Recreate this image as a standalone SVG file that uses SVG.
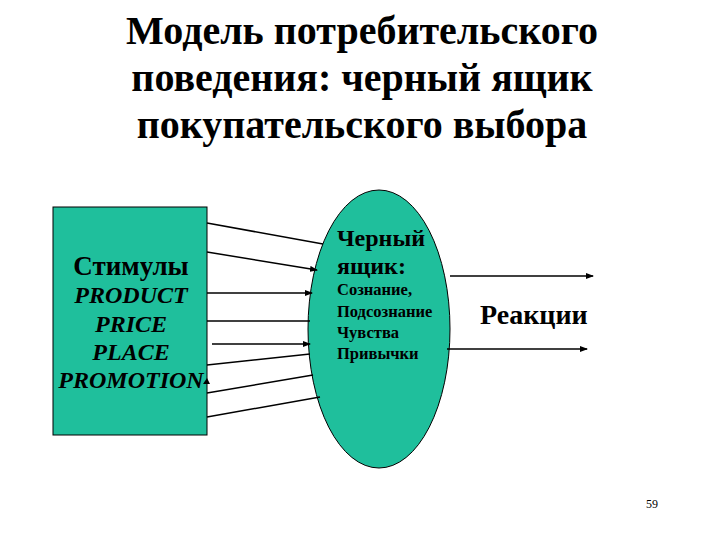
<svg xmlns="http://www.w3.org/2000/svg" width="720" height="540" viewBox="0 0 720 540">
<defs>
<style>
.t{font-family:"Liberation Serif","DejaVu Serif","Times New Roman",serif;fill:#000;font-weight:bold}
.c{stroke:#000;stroke-width:1.5;fill:none}
.node{fill:#1fbf9c;stroke:#000;stroke-width:1}
</style>
<marker id="ah" markerWidth="8" markerHeight="6" refX="7" refY="3" orient="auto" markerUnits="userSpaceOnUse"><path d="M0,0 L8,3 L0,6 z" fill="#000"/></marker>
</defs>
<rect width="720" height="540" fill="#fff"/>
<g id="title">
<text class="t" x="362" y="44" font-size="40" text-anchor="middle">Модель потребительского</text>
<text class="t" x="362" y="91" font-size="40" text-anchor="middle">поведения: черный ящик</text>
<text class="t" x="362" y="138" font-size="40" text-anchor="middle">покупательского выбора</text>
</g>
<g id="stimuli">
<rect class="node" x="53" y="207" width="154" height="228"/>
<text class="t" x="131" y="275" font-size="27" text-anchor="middle">Стимулы</text>
<text class="t" x="131" y="303" font-size="24" font-style="italic" text-anchor="middle">PRODUCT</text>
<text class="t" x="131" y="332" font-size="24" font-style="italic" text-anchor="middle">PRICE</text>
<text class="t" x="131" y="360" font-size="24" font-style="italic" text-anchor="middle">PLACE</text>
<text class="t" x="131" y="388" font-size="24" font-style="italic" text-anchor="middle">PROMOTION</text>
<path d="M203,384 L207,378 L210,384 z" fill="#000"/>
</g>
<g id="blackbox">
<ellipse class="node" cx="379" cy="329" rx="71" ry="139"/>
<text class="t" x="337" y="246" font-size="24">Черный</text>
<text class="t" x="337" y="274" font-size="24">ящик:</text>
<text class="t" x="337" y="295" font-size="16.5">Сознание,</text>
<text class="t" x="337" y="317" font-size="16.5">Подсознание</text>
<text class="t" x="337" y="338" font-size="16.5">Чувства</text>
<text class="t" x="337" y="359" font-size="16.5">Привычки</text>
</g>
<g id="reactions">
<text class="t" x="480" y="324" font-size="28">Реакции</text>
</g>
<g id="connectors">
<line class="c" x1="207" y1="223" x2="323" y2="244"/>
<line class="c" x1="207" y1="252" x2="317" y2="270" marker-end="url(#ah)"/>
<line class="c" x1="207" y1="293" x2="312" y2="293" marker-end="url(#ah)"/>
<line class="c" x1="207" y1="321" x2="310" y2="321" stroke-width="2"/>
<line class="c" x1="212" y1="344" x2="310" y2="344" marker-end="url(#ah)" stroke-width="2"/>
<line class="c" x1="207" y1="365" x2="310" y2="354"/>
<line class="c" x1="207" y1="393" x2="313" y2="375"/>
<line class="c" x1="207" y1="417" x2="320" y2="397"/>
<line class="c" x1="450" y1="276" x2="593" y2="276" marker-end="url(#ah)" stroke-width="1"/>
<line class="c" x1="447" y1="349" x2="587" y2="349" marker-end="url(#ah)" stroke-width="1"/>
</g>
<text class="t" x="652" y="508" font-size="12" style="font-weight:normal" text-anchor="middle">59</text>
</svg>
